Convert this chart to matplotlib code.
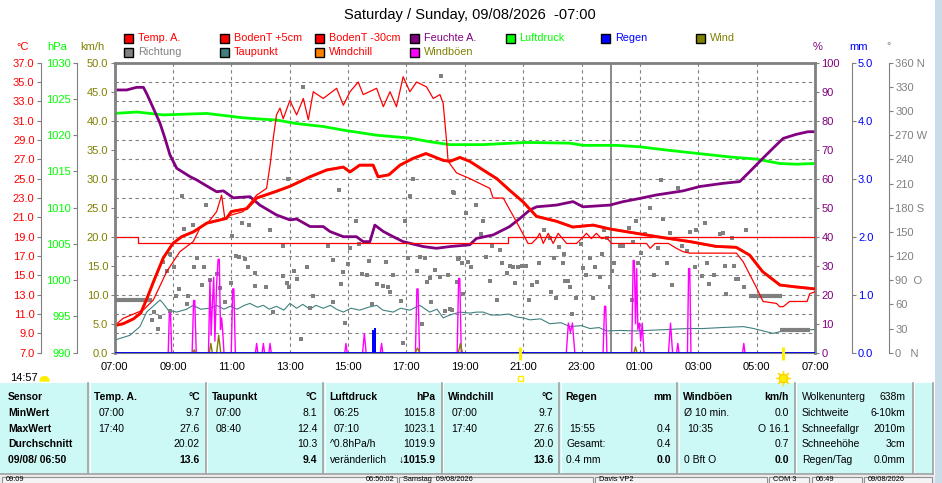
import matplotlib.pyplot as plt
from matplotlib.patches import Rectangle, Wedge

plt.rcParams['font.family'] = ['Liberation Sans', 'DejaVu Sans']

# ---- Daten (Stunden seit 07:00) ----
hour_labels = ['07:00', '09:00', '11:00', '13:00', '15:00', '17:00', '19:00',
               '21:00', '23:00', '01:00', '03:00', '05:00', '07:00']

# Temp. A. (°C)
temp_h = [0.0, 0.3, 0.65, 0.9, 1.15, 1.33, 1.67, 2.0, 2.3, 2.7, 3.16, 3.84, 4.0, 4.53, 4.87,
          5.55, 6.0, 6.7, 7.27, 7.84, 8.07, 8.4, 8.86, 9.03, 9.4, 9.78, 10.23, 10.67, 11.26,
          11.5, 11.83, 12.17, 12.63, 13.1, 13.54, 14.0, 14.46, 15.14, 15.7, 16.4, 16.97,
          17.88, 18.8, 19.7, 20.6, 21.3, 21.76, 22.2, 22.8, 23.36, 24.0]
temp_v = [9.8, 10.0, 10.5, 11.1, 12.9, 14.3, 16.8, 18.3, 19.0, 19.5, 20.4, 20.9, 21.6, 21.9, 23.0,
          23.7, 24.2, 25.2, 25.9, 26.2, 25.7, 26.4, 26.4, 25.2, 25.4, 26.4, 27.1, 27.6, 26.9,
          26.8, 27.2, 26.8, 25.9, 25.0, 23.8, 22.6, 21.1, 20.6, 20.0, 20.2, 19.8,
          19.35, 18.9, 18.5, 18.0, 17.9, 17.1, 15.4, 14.0, 13.8, 13.6]
windchill_v = list(temp_v)

# BodenT +5cm (°C)
b5_h = [0.0, 0.3, 0.99, 1.33, 1.79, 2.24, 2.7, 2.93, 3.27, 3.5, 3.67, 3.78, 3.96, 4.41, 4.87,
        5.21, 5.33, 5.44, 5.55, 5.67, 5.78, 6.01, 6.24, 6.47, 6.64, 6.81, 7.15, 7.61, 7.84,
        8.07, 8.35, 8.52, 8.98, 9.21, 9.44, 9.66, 9.89, 10.12, 10.35, 10.69, 10.92, 11.15,
        11.26, 11.38, 11.43, 11.72, 12.18, 12.86, 12.97, 13.32, 13.77, 14.17, 14.29, 14.46,
        14.57, 14.69, 14.86, 15.03, 15.2, 15.49, 15.83, 16.0, 16.17, 16.34, 16.51, 16.69,
        16.86, 17.03, 18.23, 18.35, 18.52, 18.8, 18.98, 19.25, 19.48, 19.71, 21.31, 21.54,
        22.0, 22.22, 22.68, 22.79, 22.91, 23.13, 23.73, 23.82, 24.0]
b5_v = [9.8, 10.56, 11.42, 12.45, 15.4, 17.45, 18.5, 19.9, 20.7, 21.6, 23.3, 20.9, 21.2, 21.6, 23.3,
        24.0, 26.4, 29.2, 31.6, 32.3, 31.2, 33.1, 31.6, 33.3, 31.1, 34.0, 33.3, 34.35, 32.6,
        34.0, 35.0, 33.7, 34.35, 32.45, 34.0, 32.45, 35.55, 34.0, 35.0, 34.5, 33.3, 33.7,
        32.8, 28.8, 26.8, 25.6, 25.0, 24.0, 23.0, 23.0, 20.55, 18.3, 18.3, 18.8,
        19.35, 18.3, 19.35, 18.3, 19.35, 18.3, 18.3, 18.8, 19.35, 18.8, 19.35, 18.8,
        18.9, 18.3, 18.3, 17.8, 18.3, 18.3, 18.3, 17.8, 17.45, 17.3, 17.3, 16.4,
        13.7, 12.3, 12.1, 11.76, 11.76, 12.3, 12.3, 13.1, 13.3]

# BodenT -30cm (°C)
b30_h = [0.0, 0.82, 13.48, 24.0]
b30_v = [19.0, 18.3, 18.95, 18.95]

# Taupunkt (°C)
dew_h = [0.0, 0.53, 0.87, 1.1, 1.56, 1.67, 1.84, 2.13, 2.47, 2.7, 2.95, 3.27, 3.5, 3.75, 3.96,
         4.2, 4.45, 4.64, 4.9, 5.1, 5.3, 5.55, 5.8, 6.01, 6.24, 6.45, 6.7, 6.9, 7.15, 7.4,
         7.6, 7.84, 8.1, 8.4, 8.7, 8.98, 9.2, 9.55, 9.8, 10.12, 10.46, 10.8, 11.05, 11.26,
         11.49, 11.83, 12.18, 12.4, 12.63, 12.9, 13.2, 13.5, 13.77, 14.0, 14.23, 14.6, 14.91,
         15.3, 15.6, 16.0, 16.29, 16.6, 16.86, 17.3, 17.89, 18.2, 18.57, 19.0, 19.25, 19.7,
         20.16, 20.8, 21.54, 21.9, 22.22, 22.56, 22.91, 23.4, 24.0]
dew_v = [8.3, 8.8, 9.7, 11.2, 12.45, 12.1, 11.4, 11.2, 11.5, 11.9, 11.5, 11.6, 11.9, 11.5, 11.8,
         11.5, 11.9, 12.1, 11.7, 11.9, 11.5, 11.8, 11.4, 12.1, 11.6, 12.0, 11.5, 11.9, 11.6, 11.9,
         11.5, 11.2, 11.6, 11.4, 11.7, 11.9, 11.4, 11.2, 11.6, 11.4, 11.9, 11.2, 11.5, 10.6,
         10.9, 11.2, 11.1, 11.2, 11.2, 10.9, 10.9, 11.0, 10.7, 10.6, 10.4, 10.5, 10.0,
         10.1, 9.7, 9.8, 9.5, 9.6, 9.25, 9.3, 9.25, 9.3, 9.35, 9.4, 9.45, 9.5,
         9.5, 9.6, 9.7, 9.5, 9.25, 9.0, 9.25, 9.3, 9.4]

# Luftdruck (hPa)
pres_h = [0.0, 0.76, 1.67, 3.16, 4.41, 5.1, 5.55, 6.24, 7.15, 7.84, 8.98, 10.12, 10.8, 11.49,
          12.63, 14.11, 15.6, 16.05, 17.2, 18.0, 18.8, 19.94, 21.08, 22.0, 22.79, 23.36, 24.0]
pres_v = [1023.0, 1023.2, 1022.8, 1023.0, 1022.4, 1022.2, 1022.1, 1021.6, 1021.2, 1020.7, 1020.0,
          1019.6, 1019.1, 1018.7, 1018.7, 1019.0, 1018.9, 1018.6, 1018.6, 1018.4, 1018.0,
          1017.5, 1017.0, 1016.7, 1016.1, 1016.0, 1016.1]

# Feuchte A. (%)
hum_h = [0.0, 0.42, 0.64, 0.76, 0.99, 1.1, 1.33, 1.56, 1.73, 1.9, 2.13, 2.59, 2.81, 3.16, 3.5,
         3.73, 4.07, 4.64, 4.98, 5.55, 6.01, 6.24, 6.7, 7.15, 7.38, 7.84, 8.29, 8.52, 8.75,
         8.92, 9.21, 9.55, 9.89, 10.58, 11.03, 11.49, 12.17, 12.4, 12.97, 13.54, 13.89, 14.23,
         14.46, 15.14, 15.71, 16.05, 16.97, 17.43, 18.0, 18.57, 19.48, 20.05, 20.85, 21.42,
         21.76, 22.22, 22.56, 22.91, 23.36, 23.76, 24.0]
hum_v = [90.6, 90.6, 91.2, 91.5, 91.5, 89.4, 84.3, 79.1, 73.9, 68.2, 63.6, 60.7, 59.6, 57.5, 55.5,
         55.8, 53.4, 53.8, 50.9, 47.5, 45.8, 46.1, 43.5, 43.5, 41.8, 40.0, 40.0, 38.3, 38.3,
         44.0, 41.8, 40.0, 38.3, 36.6, 36.0, 36.6, 37.2, 39.4, 40.6, 43.5, 46.3, 49.2,
         50.3, 50.9, 52.1, 50.3, 50.9, 52.1, 53.2, 54.4, 55.8, 57.3, 58.4, 59.0,
         62.4, 67.1, 70.5, 73.9, 75.3, 76.2, 76.2]

# Windböen (km/h)
gust_h = [0.0, 1.84, 1.88, 1.92, 1.96, 2.66, 2.71, 2.75, 2.8,
          3.22, 3.27, 3.31, 3.35, 3.4, 3.44, 3.5, 3.55, 3.59, 3.63, 3.67, 3.71, 3.75,
          4.0, 4.05, 4.09, 4.14, 4.83, 4.87, 4.91, 5.06, 5.1, 5.14, 5.29, 5.33, 5.37,
          7.89, 7.93, 7.97, 8.5, 8.56, 8.62, 9.11, 9.15, 9.19,
          10.31, 10.36, 10.4, 10.45, 11.74, 11.79, 11.83, 11.88,
          15.48, 15.55, 15.62, 15.69, 15.77, 16.74, 16.79, 16.83, 16.87,
          17.72, 17.77, 17.81, 17.85, 17.89, 17.93, 17.98, 18.03, 18.08, 18.14,
          18.98, 19.05, 19.12, 19.26, 19.3, 19.34, 19.63, 19.67, 19.71, 19.75,
          21.52, 21.56, 21.6, 24.0]
gust_v = [0.0, 0.0, 6.8, 6.8, 0.0, 0.0, 9.0, 9.0, 0.0,
          0.0, 12.5, 3.0, 8.0, 13.0, 2.0, 12.0, 16.1, 16.1, 4.0, 6.0, 3.5, 0.0,
          0.0, 11.0, 11.0, 0.0, 0.0, 1.6, 0.0, 0.0, 1.6, 0.0, 0.0, 1.6, 0.0,
          0.0, 1.6, 0.0, 0.0, 3.3, 0.0, 0.0, 1.6, 0.0,
          0.0, 11.0, 11.0, 0.0, 0.0, 12.8, 12.8, 0.0,
          0.0, 5.1, 3.5, 5.1, 0.0, 0.0, 8.0, 8.0, 0.0,
          0.0, 15.9, 15.9, 5.0, 14.5, 4.0, 5.1, 2.0, 5.1, 0.0,
          0.0, 5.1, 0.0, 0.0, 1.6, 0.0, 0.0, 14.5, 14.5, 0.0,
          0.0, 1.6, 0.0, 0.0]

# Wind (km/h)
wind_h = [0.0, 2.68, 2.73, 2.78, 3.25, 3.3, 3.35, 3.5, 3.57, 3.64, 10.3, 10.38, 10.46,
          11.78, 11.85, 11.92, 17.8, 17.85, 17.9, 24.0]
wind_v = [0.0, 0.0, 0.5, 0.0, 0.0, 1.6, 0.0, 0.0, 3.0, 0.0, 0.0, 0.8, 0.0,
          0.0, 1.6, 0.0, 0.0, 1.0, 0.0, 0.0]

# Regen (mm)
rain_h = [0.0, 24.0]
rain_v = [0.0, 0.0]
rain_bar_h = [8.81, 8.88]
rain_bar_v = [0.39, 0.43]

# Richtung (°)
dir_h = [6.47, 11.2, 2.30, 3.13, 5.95, 7.70, 10.21, 10.12, 11.6, 8.29, 9.95, 4.36, 4.62, 5.33, 4.01,
         2.38, 2.68, 5.78, 7.30, 8.07, 8.39, 1.90, 1.67, 2.05, 2.84, 2.73, 3.08, 4.16, 4.27, 4.47,
         4.58, 7.49, 8.0, 8.73, 9.30, 6.60, 10.04, 10.46, 10.65, 11.78, 12.12, 1.79, 3.27, 3.50,
         4.83, 5.78, 6.16, 6.24, 7.84, 8.48, 8.64, 9.55, 10.37, 10.98, 10.8, 11.15, 11.43, 10.72,
         2.99, 3.61, 3.99, 2.22, 4.81, 5.19, 5.90, 5.99, 7.76, 8.98, 9.21, 9.38, 9.44, 2.10, 2.53,
         3.78, 6.79, 9.81, 11.95, 2.47, 5.44, 11.55, 11.32, 1.90, 1.35, 1.27, 1.56, 6.70, 7.49,
         8.83, 10.86, 1.48, 7.89, 10.55, 6.38, 9.87,
         18.71, 19.30, 11.63, 12.38, 12.03, 18.36, 18.79, 12.61, 17.88, 20.22, 19.94, 19.71,
         21.65, 20.85, 20.73, 21.14, 16.78, 17.63, 18.17, 14.71, 12.54, 16.86, 17.76, 19.02,
         15.98, 15.23, 14.92, 17.31, 17.42, 12.94, 19.45, 18.62, 19.62, 15.41, 15.07, 13.2,
         16.7, 18.03, 12.72, 11.8, 11.89, 12.23, 13.29, 13.54, 13.65, 13.82, 13.97, 14.1,
         14.54, 15.35, 16.29, 16.46, 16.05, 17.12, 17.92, 18.93, 20.29, 19.88, 20.93, 21.22,
         13.45, 16.15, 16.63, 17.03, 18.48, 20.13, 20.53, 11.72, 12.88, 13.72, 14.31, 14.47,
         15.42, 15.54, 19.11, 20.38, 21.31, 21.37, 21.57, 14.97, 15.61, 16.97, 13.12, 14.2,
         15.13, 15.81, 16.38, 17.73, 20.95, 11.49, 15.68]
dir_deg = [330, 344, 195, 183, 216, 202, 216, 195, 199, 164, 163, 161, 159, 152, 145,
           153, 158, 132, 133, 130, 135, 123, 112, 106, 117, 107, 107, 120, 119, 116,
           107, 115, 110, 114, 113, 107, 118, 119, 118, 116, 112, 102, 90, 98,
           99, 95, 101, 92, 100, 98, 97, 97, 102, 103, 93, 94, 97, 88,
           84, 80, 86, 79, 83, 81, 86, 81, 85, 85, 83, 81, 75, 71, 70,
           63, 70, 64, 73, 61, 50, 53, 52, 52, 50, 41, 44, 55, 63,
           61, 63, 30, 37, 36, 17, 12,
           214, 205, 198, 183, 174, 180, 166, 164, 164, 161, 152, 150,
           152, 149, 147, 143, 152, 155, 147, 152, 147, 143, 138, 149,
           135, 131, 143, 133, 133, 133, 133, 130, 126, 122, 118, 127,
           123, 124, 119, 117, 111, 106, 111, 108, 107, 107, 108, 108,
           111, 111, 117, 107, 105, 111, 111, 111, 111, 106, 108, 108,
           99, 97, 94, 101, 96, 95, 97, 88, 89, 86, 84, 88,
           89, 89, 84, 85, 91, 91, 82, 75, 81, 82, 65, 65,
           68, 68, 68, 66, 73, 54, 48]
# konstante Richtung (dicke Segmente)
dir_seg_h = [(0.0, 1.27), (21.73, 22.86), (22.79, 23.82)]
dir_seg_deg = [65, 71, 28]

# ---- Layout ----
W, H = 942, 483
L, R, T, B = 114.5, 815.0, 62.7, 352.7
GRAY = '#808080'
RED = '#ff0000'
PURPLE = '#800080'
LIME = '#00ff00'
BLUE = '#0000ff'
OLIVE = '#808000'
TEAL = '#408080'
ORANGE = '#ff8000'
MAGENTA = '#ff00ff'
CYAN_BG = '#ccf8f6'

fig = plt.figure(figsize=(W / 100, H / 100), dpi=100)
fig.patch.set_facecolor('white')

ax = fig.add_axes([L / W, 1 - B / H, (R - L) / W, (B - T) / H])
ax.set_xlim(0, 24)
ax.set_ylim(7, 37)
t_ticks = list(range(7, 38, 2))
ax.set_yticks(t_ticks)
ax.set_yticklabels(['{:.1f}'.format(t) for t in t_ticks])
ax.set_xticks(range(0, 25, 2))
ax.set_xticklabels(hour_labels)
ax.tick_params(axis='y', colors=GRAY, labelcolor=RED, length=3, width=0.8, pad=1.5, labelsize=8)
ax.tick_params(axis='x', length=0, pad=7, labelsize=8, labelcolor='black')
ax.grid(True, color=GRAY, linestyle=(0, (3, 3)), linewidth=0.8)
ax.spines['left'].set_position(('axes', (40.7 - L) / (R - L)))
ax.spines['left'].set_color(GRAY)
ax.spines['right'].set_visible(False)
ax.spines['top'].set_color(GRAY)
ax.spines['top'].set_linewidth(2)
ax.spines['bottom'].set_color(GRAY)
ax.axvline(17, color=GRAY, lw=1.3)
ax.plot(dew_h, dew_v, color=TEAL, lw=0.8)


def side_axis(side, xpos, lo, hi, ticks, labels, color, lw=0.8):
    a = ax.twinx()
    a.set_ylim(lo, hi)
    for s in a.spines.values():
        s.set_visible(False)
    if side is None:
        a.set_yticks([])
        return a
    sp = a.spines[side]
    sp.set_visible(True)
    sp.set_position(('axes', (xpos - L) / (R - L)))
    sp.set_color(GRAY)
    sp.set_linewidth(lw)
    a.yaxis.set_ticks_position(side)
    a.set_yticks(ticks)
    a.set_yticklabels(labels)
    a.tick_params(axis='y', colors=GRAY, labelcolor=color, length=3, width=0.8, pad=1.5, labelsize=8)
    return a


deg_ticks = list(range(0, 361, 30))
deg_names = {0: '0   N', 90: '90  O', 180: '180 S', 270: '270 W', 360: '360 N'}
a_deg = side_axis('right', 889, 0, 360, deg_ticks, [deg_names.get(d, str(d)) for d in deg_ticks], GRAY)
a_deg.plot(dir_h, dir_deg, ls='none', marker='s', ms=3.2, color=GRAY, mew=0)
for (h0, h1), d in zip(dir_seg_h, dir_seg_deg):
    a_deg.plot([h0, h1], [d, d], color=GRAY, lw=3, solid_capstyle='butt')

p_ticks = list(range(990, 1031, 5))
a_hpa = side_axis('left', 77, 990, 1030, p_ticks, [str(p) for p in p_ticks], LIME)
a_hpa.plot(pres_h, pres_v, color=LIME, lw=2)

h_ticks = list(range(0, 101, 10))
a_pct = side_axis('right', R, 0, 100, h_ticks, [str(h) for h in h_ticks], PURPLE, lw=2)
a_pct.plot(hum_h, hum_v, color=PURPLE, lw=2)

a_tmp = side_axis(None, 0, 7, 37, [], [], RED)
a_tmp.plot(b30_h, b30_v, color=RED, lw=0.9, drawstyle='steps-post')
a_tmp.plot(b5_h, b5_v, color=RED, lw=0.9)
a_tmp.plot(temp_h, windchill_v, color=ORANGE, lw=2)
a_tmp.plot(temp_h, temp_v, color=RED, lw=2)

k_ticks = list(range(0, 51, 5))
a_kmh = side_axis('left', L, 0, 50, k_ticks, ['{:.1f}'.format(k) for k in k_ticks], OLIVE, lw=2)
a_kmh.plot(gust_h, gust_v, color=MAGENTA, lw=1)
a_kmh.plot(wind_h, wind_v, color=OLIVE, lw=1)

m_ticks = [0, 1, 2, 3, 4, 5]
a_mm = side_axis('right', 851.7, 0, 5, m_ticks, ['{:.1f}'.format(m) for m in m_ticks], BLUE)
a_mm.bar(rain_bar_h, rain_bar_v, width=0.07, align='edge', color=BLUE)
a_mm.plot(rain_h, rain_v, color=BLUE, lw=2)
a_mm.set_xlim(0, 24)

# ---- Overlay: Titel, Legende, Tabelle ----
ov = fig.add_axes([0, 0, 1, 1])
ov.set_xlim(0, W)
ov.set_ylim(H, 0)
ov.axis('off')

ov.text(470, 15, 'Saturday / Sunday, 09/08/2026  -07:00', ha='center', va='center', fontsize=10.5)

legend_rows = [
    [('Temp. A.', RED, RED), ('BodenT +5cm', RED, RED), ('BodenT -30cm', RED, RED),
     ('Feuchte A.', PURPLE, PURPLE), ('Luftdruck', LIME, LIME), ('Regen', BLUE, BLUE),
     ('Wind', OLIVE, OLIVE)],
    [('Richtung', GRAY, GRAY), ('Taupunkt', TEAL, RED), ('Windchill', ORANGE, RED),
     ('Windböen', MAGENTA, OLIVE)],
]
for r, (row, yy) in enumerate(zip(legend_rows, [38, 52])):
    for c, (name, fc, tc) in enumerate(row):
        x0 = 124.3 + 95.3 * c
        ov.add_patch(Rectangle((x0, yy - 4.5), 9, 9, facecolor=fc, edgecolor='black', lw=1))
        ov.text(x0 + 14, yy, name, color=tc, fontsize=7.8, va='center', ha='left')

for txt, xx, col in [('°C', 23, RED), ('hPa', 57, LIME), ('km/h', 92, OLIVE),
                     ('%', 818, PURPLE), ('mm', 859, BLUE), ('°', 889, GRAY)]:
    ov.text(xx, 46.5, txt, color=col, fontsize=8, ha='center', va='center')

# Sonnenmarken
ov.text(10, 378, '14:57', fontsize=8, va='center', ha='left')
ov.add_patch(Wedge((44.5, 381), 4.5, 180, 360, color='#ffee00'))
for sx in [520, 782.7]:
    ov.plot([sx, sx], [347, 360], color='#ffee00', lw=2.2, solid_capstyle='butt')
ov.add_patch(Rectangle((517.5, 375.5), 5, 5, facecolor='none', edgecolor='#ffee00', lw=1))
ov.plot(782.7, 378, marker=(8, 2, 0), ms=11, color='#ffe000', mew=0.9)
ov.plot(782.7, 378, marker='o', ms=6, color='#ffee00', mec='#ffd000')

# Tabelle
ov.add_patch(Rectangle((0, 382.5), 933, 91.5, facecolor=CYAN_BG, edgecolor='none'))
seps = [88.3, 205.7, 323.3, 441.7, 559.3, 677.3, 795, 913]
for sx in seps:
    ov.plot([sx, sx], [383, 473], color='#a0a0a0', lw=1.2)
    ov.plot([sx + 1.2, sx + 1.2], [383, 473], color='white', lw=0.8)
ov.plot([933, 933], [382.5, 474], color='#a0a0a0', lw=1.2)
ov.plot([0, 933], [474, 474], color='#a0a0a0', lw=1.2)
ov.add_patch(Rectangle((935, 0), 7, H, facecolor='#c9dde8', edgecolor='none'))

row_y = [396.7, 412.7, 428.7, 444.3, 460.3]
row_names = ['Sensor', 'MinWert', 'MaxWert', 'Durchschnitt', '09/08/ 06:50']
tab_heads = ['Temp. A.', 'Taupunkt', 'Luftdruck', 'Windchill', 'Regen', 'Windböen']
tab_units = ['°C', '°C', 'hPa', '°C', 'mm', 'km/h']
tab_labels = [['07:00', '17:40', '', ''], ['07:00', '08:40', '', ''],
              ['06:25', '07:10', '^0.8hPa/h', 'veränderlich'], ['07:00', '17:40', '', ''],
              ['', '15:55', 'Gesamt:', '0.4 mm'], ['Ø 10 min.', '10:35', '', '0 Bft O']]
tab_values = [['9.7', '27.6', '20.02', '13.6'], ['8.1', '12.4', '10.3', '9.4'],
              ['1015.8', '1023.1', '1019.9', '↓1015.9'], ['9.7', '27.6', '20.0', '13.6'],
              ['', '0.4', '0.4', '0.0'], ['0.0', 'O 16.1', '0.7', '0.0']]
extra_names = ['Wolkenunterg', 'Sichtweite', 'Schneefallgr', 'Schneehöhe', 'Regen/Tag']
extra_values = ['638m', '6-10km', '2010m', '3cm', '0.0mm']
FS = 7.5

for name, yy in zip(row_names, row_y):
    ov.text(8, yy, name, fontsize=FS, fontweight='bold', va='center', ha='left')
for i in range(6):
    x_l = seps[i] + 6
    x_r = seps[i + 1] - 6
    ov.text(x_l, row_y[0], tab_heads[i], fontsize=FS, fontweight='bold', va='center')
    ov.text(x_r, row_y[0], tab_units[i], fontsize=FS, fontweight='bold', va='center', ha='right')
    for j in range(4):
        lab = tab_labels[i][j]
        off = 10 if (len(lab) == 5 and lab[2] == ':') else 7
        ov.text(seps[i] + off, row_y[j + 1], lab, fontsize=FS, va='center')
        ov.text(x_r, row_y[j + 1], tab_values[i][j], fontsize=FS, va='center', ha='right',
                fontweight='bold' if j == 3 else 'normal')
for name, val, yy in zip(extra_names, extra_values, row_y):
    ov.text(seps[6] + 7, yy, name, fontsize=FS, va='center')
    ov.text(seps[7] - 8, yy, val, fontsize=FS, va='center', ha='right')

# Statusleiste
ov.add_patch(Rectangle((0, 475), 935, 8, facecolor='#ececec', edgecolor='none'))
status = [(2, 397, '09:09', '06:50:02'), (399, 593, 'Samstag  09/08/2026', ''),
          (595, 767, 'Davis VP2', ''), (769, 809, 'COM 3', ''), (812, 862, '06:49', ''),
          (864, 932, '09/08/2026', '')]
for x0, x1, left_txt, right_txt in status:
    ov.add_patch(Rectangle((x0, 476.5), x1 - x0, 10, facecolor='#f4f4f4', edgecolor='#909090', lw=0.8))
    ov.text(x0 + 4, 479.9, left_txt, fontsize=5.3, va='center', ha='left')
    if right_txt:
        ov.text(x1 - 3, 479.9, right_txt, fontsize=5.3, va='center', ha='right')

fig.savefig('out.png', dpi=100)
